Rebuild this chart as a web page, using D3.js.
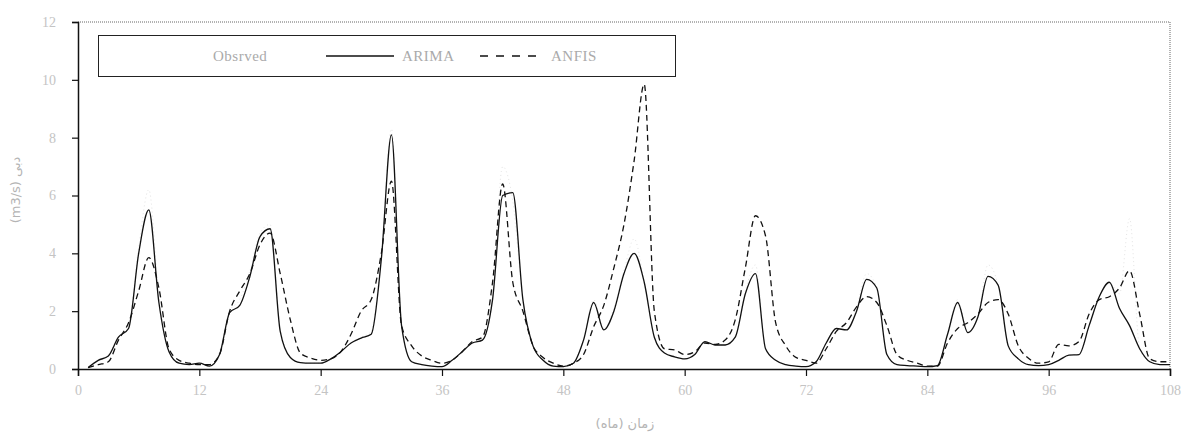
<!DOCTYPE html>
<html>
<meta charset="utf-8">
<title>Observed / ARIMA / ANFIS</title>
<style>
  body { margin: 0; background: #fff; }
  text { font-family: "Liberation Serif", serif; }
</style>
<body>
<div id="chart"></div>
<script src="https://d3js.org/d3.v7.min.js"></script>
<script>
// months 1..108
var months = d3.range(1, 109);

var arima = [0.05,0.3,0.45,1.1,1.4,4.0,5.5,2.3,0.6,0.2,0.15,0.2,0.1,0.5,1.95,2.2,3.2,4.58,4.85,1.3,
  0.4,0.22,0.2,0.2,0.35,0.6,0.9,1.07,1.2,3.8,8.1,1.5,0.25,0.15,0.1,0.08,0.3,0.6,0.9,1.0,
  2.4,6.0,6.1,2.4,0.8,0.3,0.1,0.08,0.2,1.0,2.3,1.35,2.0,3.3,4.0,3.0,1.1,0.55,0.42,0.35,
  0.5,0.95,0.83,0.83,1.1,2.6,3.3,0.7,0.3,0.15,0.1,0.08,0.25,0.9,1.4,1.35,2.0,3.1,2.8,0.5,
  0.15,0.12,0.1,0.08,0.12,1.2,2.3,1.26,1.8,3.2,2.9,0.8,0.35,0.15,0.12,0.15,0.3,0.48,0.5,1.5,
  2.5,3.0,2.1,1.5,0.7,0.25,0.15,0.15];

var anfis = [0.05,0.15,0.25,1.0,1.6,2.7,3.85,2.8,0.7,0.3,0.2,0.15,0.15,0.5,2.0,2.7,3.3,4.3,4.7,3.3,
  1.7,0.55,0.38,0.3,0.35,0.6,1.2,2.0,2.4,4.0,6.5,1.5,0.8,0.45,0.3,0.2,0.3,0.6,0.95,1.1,
  3.0,6.4,3.0,2.0,0.8,0.4,0.2,0.1,0.2,0.5,1.46,2.2,3.5,5.0,7.2,9.85,2.0,0.7,0.66,0.5,
  0.6,0.9,0.85,1.0,1.7,3.5,5.3,4.6,1.6,0.8,0.4,0.3,0.2,0.7,1.3,1.6,2.15,2.5,2.3,1.5,
  0.5,0.3,0.2,0.1,0.1,0.9,1.4,1.6,1.9,2.3,2.4,1.9,0.8,0.37,0.2,0.25,0.85,0.8,0.95,1.9,
  2.4,2.5,2.8,3.4,1.9,0.35,0.25,0.25];

var observed = [0.05,0.3,0.5,1.1,1.5,4.2,6.2,2.5,0.6,0.2,0.15,0.2,0.1,0.6,2.0,2.4,3.4,4.7,5.0,1.4,
  0.4,0.22,0.2,0.2,0.35,0.6,0.9,1.1,1.3,4.0,8.3,1.6,0.25,0.15,0.1,0.08,0.3,0.6,0.9,1.0,
  2.6,7.0,5.8,2.4,0.8,0.3,0.1,0.08,0.2,1.0,2.4,1.4,2.1,3.4,4.5,3.0,1.1,0.55,0.42,0.35,
  0.5,0.95,0.83,0.83,1.1,2.7,3.6,0.7,0.3,0.15,0.1,0.08,0.25,0.9,1.4,1.35,2.1,3.3,2.8,0.5,
  0.15,0.12,0.1,0.08,0.12,1.2,2.4,1.3,1.8,3.6,2.9,0.8,0.35,0.15,0.12,0.15,0.3,0.48,0.5,1.5,
  2.5,3.0,2.6,5.2,0.7,0.25,0.15,0.15];

var xTicks = [0, 12, 24, 36, 48, 60, 72, 84, 96, 108];
var yTicks = [0, 2, 4, 6, 8, 10, 12];

var W = 1183, H = 437;
var mLeft = 78, mRight = 1170, mTop = 22, mBottom = 369;

var svg = d3.select("#chart").append("svg")
  .attr("width", W).attr("height", H);

var x = d3.scaleLinear().domain([0, 108]).range([mLeft, mRight]);
var y = d3.scaleLinear().domain([0, 12]).range([mBottom, mTop]);

// frame (top and right)
svg.append("path")
  .attr("d", "M" + mLeft + "," + mTop + "H" + mRight + "V" + mBottom)
  .attr("fill", "none")
  .attr("stroke", "#666")
  .attr("stroke-width", 1)
  .attr("stroke-dasharray", "1,1");

var line = d3.line()
  .x(function (d, i) { return x(months[i]); })
  .y(function (d) { return y(d); })
  .curve(d3.curveMonotoneX);

// observed: very faint
svg.append("path")
  .attr("d", line(observed))
  .attr("fill", "none")
  .attr("stroke", "#e4e4e4")
  .attr("stroke-width", 1)
  .attr("stroke-dasharray", "1,3");

svg.append("path")
  .attr("d", line(anfis))
  .attr("fill", "none")
  .attr("stroke", "#111")
  .attr("stroke-width", 1.3)
  .attr("stroke-dasharray", "6,4");

svg.append("path")
  .attr("d", line(arima))
  .attr("fill", "none")
  .attr("stroke", "#111")
  .attr("stroke-width", 1.3);

// axes
var xAxis = svg.append("g")
  .attr("transform", "translate(0," + mBottom + ")")
  .call(d3.axisBottom(x).tickValues(xTicks).tickSize(7).tickPadding(9));
var yAxis = svg.append("g")
  .attr("transform", "translate(" + mLeft + ",0)")
  .call(d3.axisLeft(y).tickValues(yTicks).tickSize(6).tickPadding(16));

[xAxis, yAxis].forEach(function (a) {
  a.select(".domain").attr("stroke", "#111").attr("stroke-width", 1.5);
  a.selectAll(".tick line").attr("stroke", "#111").attr("stroke-width", 1.2);
  a.selectAll(".tick text")
    .attr("fill", "#c4c4c4")
    .style("font-family", "Liberation Serif")
    .style("font-size", "14px");
});

// axis titles
svg.append("text")
  .attr("x", 625).attr("y", 428)
  .attr("text-anchor", "middle")
  .attr("direction", "rtl")
  .attr("fill", "#b4b4b4")
  .style("font-family", "DejaVu Sans")
  .style("font-size", "13px")
  .text("زمان (ماه)");

svg.append("text")
  .attr("transform", "translate(20,190) rotate(-90)")
  .attr("text-anchor", "middle")
  .attr("direction", "rtl")
  .attr("fill", "#b4b4b4")
  .style("font-family", "DejaVu Sans")
  .style("font-size", "13px")
  .text("دبی (m3/s)");

// legend
var lg = svg.append("g");
lg.append("rect")
  .attr("x", 98.5).attr("y", 35.5)
  .attr("width", 577).attr("height", 41)
  .attr("fill", "#fff")
  .attr("stroke", "#222")
  .attr("stroke-width", 1);

var legendText = [
  { label: "Obsrved", x: 213 },
  { label: "ARIMA", x: 402 },
  { label: "ANFIS", x: 551 }
];
legendText.forEach(function (d) {
  lg.append("text")
    .attr("x", d.x).attr("y", 61)
    .attr("fill", "#aaa")
    .style("font-size", "15px")
    .style("letter-spacing", "0.5px")
    .text(d.label);
});
lg.append("line")
  .attr("x1", 326).attr("x2", 394).attr("y1", 56).attr("y2", 56)
  .attr("stroke", "#111").attr("stroke-width", 1.3);
lg.append("line")
  .attr("x1", 480).attr("x2", 542).attr("y1", 56).attr("y2", 56)
  .attr("stroke", "#111").attr("stroke-width", 1.3)
  .attr("stroke-dasharray", "8,8");
</script>
</body>
</html>
